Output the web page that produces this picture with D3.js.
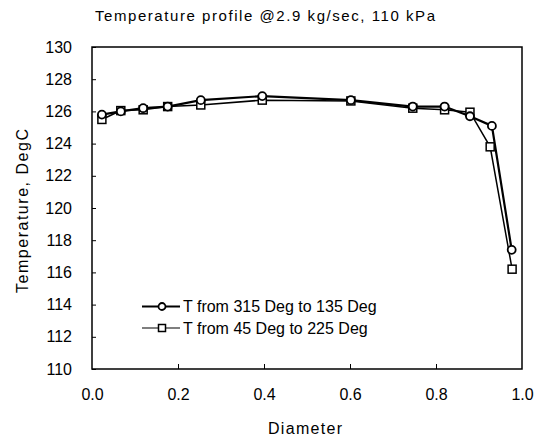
<!DOCTYPE html>
<html>
<head>
<meta charset="utf-8">
<script src="https://cdn.jsdelivr.net/npm/d3@7"></script>
<style>
  body { margin: 0; background: #fff; }
  svg { font-family: "Liberation Sans", Arial, sans-serif; }
</style>
</head>
<body>
<div id="container"></div>
<script>
// data
var diameter1 = [0.023, 0.067, 0.119, 0.176, 0.253, 0.396, 0.602, 0.746, 0.82, 0.879, 0.93, 0.976];
var temp1 = [125.8, 126.0, 126.2, 126.3, 126.7, 126.95, 126.7, 126.3, 126.3, 125.7, 125.1, 117.4];
var diameter2 = [0.023, 0.067, 0.119, 0.176, 0.253, 0.396, 0.602, 0.746, 0.82, 0.879, 0.926, 0.977];
var temp2 = [125.5, 126.05, 126.1, 126.3, 126.4, 126.7, 126.65, 126.2, 126.1, 125.95, 123.8, 116.2];
var seriesNames = ["T from 315 Deg to 135 Deg", "T from 45 Deg to 225 Deg"];
var xTicks = [0, 0.2, 0.4, 0.6, 0.8, 1.0];
var yTicks = [110, 112, 114, 116, 118, 120, 122, 124, 126, 128, 130];

var margin = { top: 47, right: 24, bottom: 69, left: 92 };
var W = 546, H = 438;
var width = W - margin.left - margin.right,
    height = H - margin.top - margin.bottom;

var x = d3.scaleLinear().domain([0, 1]).range([0, width]);
var y = d3.scaleLinear().domain([110, 130]).range([height, 0]);

var root = d3.select("div#container")
    .append("svg")
    .attr("width", W)
    .attr("height", H);

var svg = root.append("g")
    .attr("transform", "translate(" + margin.left + "," + margin.top + ")");

// frame
svg.append("rect")
    .attr("width", width)
    .attr("height", height)
    .attr("fill", "none")
    .attr("stroke", "#000")
    .attr("stroke-width", 1.5);

// x axis, inward ticks
var xa = svg.append("g")
    .attr("transform", "translate(0," + height + ")")
    .call(d3.axisBottom(x).tickValues(xTicks).tickSizeInner(-5).tickSizeOuter(0)
        .tickPadding(20).tickFormat(d3.format(".1f")));
xa.select(".domain").remove();
xa.selectAll("line").attr("stroke", "#000");
xa.selectAll("text").style("font-size", "16px").attr("fill", "#000");
xa.selectAll(".tick").filter(function (d) { return d === 0 || d === 1; }).select("line").remove();

// y axis, inward ticks
var ya = svg.append("g")
    .call(d3.axisLeft(y).tickValues(yTicks).tickSizeInner(-4).tickSizeOuter(0).tickPadding(20));
ya.select(".domain").remove();
ya.selectAll("line").attr("stroke", "#000");
ya.selectAll("text").style("font-size", "16px").attr("fill", "#000");

// titles
root.append("text")
    .attr("x", 265).attr("y", 21)
    .attr("text-anchor", "middle")
    .style("font-size", "15px")
    .attr("textLength", 340)
    .text("Temperature profile @2.9 kg/sec, 110 kPa");

root.append("text")
    .attr("x", 305).attr("y", 434)
    .attr("text-anchor", "middle")
    .style("font-size", "16px")
    .attr("textLength", 74)
    .text("Diameter");

root.append("text")
    .attr("transform", "translate(28,211)rotate(-90)")
    .attr("text-anchor", "middle")
    .style("font-size", "16px")
    .attr("textLength", 164)
    .text("Temperature, DegC");

var line = d3.line()
    .x(function (d) { return x(d[0]); })
    .y(function (d) { return y(d[1]); });

var pts1 = d3.zip(diameter1, temp1);
var pts2 = d3.zip(diameter2, temp2);

svg.append("path").datum(pts2).attr("d", line)
    .attr("fill", "none").attr("stroke", "#000").attr("stroke-width", 1.5);
svg.append("path").datum(pts1).attr("d", line)
    .attr("fill", "none").attr("stroke", "#000").attr("stroke-width", 2.2);

// squares
svg.selectAll("rect.sq")
    .data(pts2)
    .enter()
    .append("rect")
    .attr("class", "sq")
    .attr("x", function (d) { return x(d[0]) - 4; })
    .attr("y", function (d) { return y(d[1]) - 4; })
    .attr("width", 8).attr("height", 8)
    .attr("fill", "#fff").attr("stroke", "#000").attr("stroke-width", 1.5);

// circles
svg.selectAll("circle.ci")
    .data(pts1)
    .enter()
    .append("circle")
    .attr("class", "ci")
    .attr("cx", function (d) { return x(d[0]); })
    .attr("cy", function (d) { return y(d[1]); })
    .attr("r", 4)
    .attr("fill", "#fff").attr("stroke", "#000").attr("stroke-width", 1.8);

// legend
var legend = root.append("g").attr("transform", "translate(142,306.5)");
seriesNames.forEach(function (name, i) {
    var g = legend.append("g").attr("transform", "translate(0," + (i * 21.5) + ")");
    g.append("line").attr("x1", 0).attr("x2", 38).attr("y1", 0).attr("y2", 0)
        .attr("stroke", "#000").attr("stroke-width", i === 0 ? 2 : 1.2);
    if (i === 0) {
        g.append("circle").attr("cx", 20).attr("cy", 0).attr("r", 3.5)
            .attr("fill", "#fff").attr("stroke", "#000").attr("stroke-width", 1.8);
    } else {
        g.append("rect").attr("x", 16.5).attr("y", -3.5).attr("width", 7).attr("height", 7)
            .attr("fill", "#fff").attr("stroke", "#000").attr("stroke-width", 1.5);
    }
    g.append("text").attr("x", 41).attr("y", 5.5)
        .style("font-size", "16px")
        .text(name);
});
</script>
</body>
</html>
